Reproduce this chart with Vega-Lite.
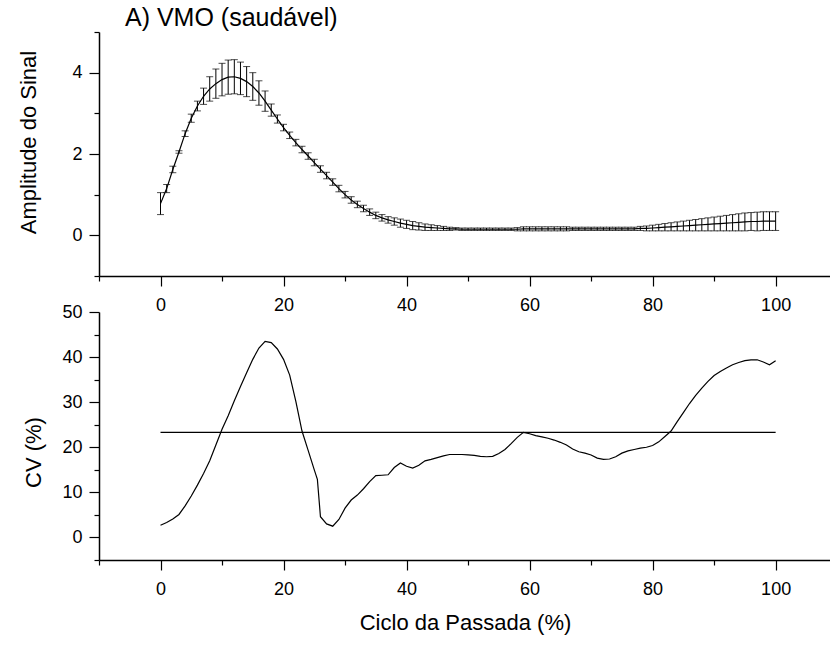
{
  "$schema": "https://vega.github.io/schema/vega-lite/v6.json",
  "background": "white",
  "padding": {"left": 16, "top": 6, "right": 0, "bottom": 5},
  "bounds": "flush",
  "spacing": 36,
  "config": {
    "font": "Liberation Sans",
    "view": {"stroke": null},
    "axis": {
      "grid": false,
      "labelOverlap": false,
      "labelFlush": false,
      "format": "d",
      "domainColor": "black",
      "domainWidth": 1.5,
      "tickColor": "black",
      "tickWidth": 1.2,
      "labelColor": "black",
      "labelFont": "Liberation Sans",
      "labelFontSize": 18,
      "titleColor": "black",
      "titleFont": "Liberation Sans",
      "titleFontSize": 22,
      "titleFontWeight": "normal"
    }
  },
  "datasets": {
    "amp": [
      {"p":0,"m":0.78,"lo":0.51,"hi":1.05},
      {"p":1,"m":1.15,"lo":1.05,"hi":1.25},
      {"p":2,"m":1.62,"lo":1.54,"hi":1.70},
      {"p":3,"m":2.05,"lo":2.02,"hi":2.08},
      {"p":4,"m":2.50,"lo":2.43,"hi":2.57},
      {"p":5,"m":2.88,"lo":2.78,"hi":2.98},
      {"p":6,"m":3.18,"lo":3.06,"hi":3.30},
      {"p":7,"m":3.42,"lo":3.22,"hi":3.62},
      {"p":8,"m":3.60,"lo":3.30,"hi":3.90},
      {"p":9,"m":3.73,"lo":3.37,"hi":4.09},
      {"p":10,"m":3.83,"lo":3.43,"hi":4.23},
      {"p":11,"m":3.89,"lo":3.47,"hi":4.31},
      {"p":12,"m":3.90,"lo":3.48,"hi":4.32},
      {"p":13,"m":3.86,"lo":3.46,"hi":4.26},
      {"p":14,"m":3.78,"lo":3.41,"hi":4.15},
      {"p":15,"m":3.66,"lo":3.32,"hi":4.00},
      {"p":16,"m":3.50,"lo":3.20,"hi":3.80},
      {"p":17,"m":3.30,"lo":3.05,"hi":3.55},
      {"p":18,"m":3.08,"lo":2.93,"hi":3.23},
      {"p":19,"m":2.86,"lo":2.76,"hi":2.96},
      {"p":20,"m":2.65,"lo":2.57,"hi":2.73},
      {"p":21,"m":2.46,"lo":2.38,"hi":2.54},
      {"p":22,"m":2.28,"lo":2.20,"hi":2.36},
      {"p":23,"m":2.11,"lo":2.03,"hi":2.19},
      {"p":24,"m":1.95,"lo":1.87,"hi":2.03},
      {"p":25,"m":1.79,"lo":1.71,"hi":1.87},
      {"p":26,"m":1.63,"lo":1.55,"hi":1.71},
      {"p":27,"m":1.47,"lo":1.39,"hi":1.55},
      {"p":28,"m":1.31,"lo":1.23,"hi":1.39},
      {"p":29,"m":1.15,"lo":1.07,"hi":1.23},
      {"p":30,"m":1.00,"lo":0.92,"hi":1.08},
      {"p":31,"m":0.87,"lo":0.79,"hi":0.95},
      {"p":32,"m":0.76,"lo":0.68,"hi":0.84},
      {"p":33,"m":0.66,"lo":0.58,"hi":0.74},
      {"p":34,"m":0.57,"lo":0.49,"hi":0.65},
      {"p":35,"m":0.49,"lo":0.41,"hi":0.57},
      {"p":36,"m":0.43,"lo":0.35,"hi":0.51},
      {"p":37,"m":0.38,"lo":0.30,"hi":0.46},
      {"p":38,"m":0.34,"lo":0.25,"hi":0.43},
      {"p":39,"m":0.30,"lo":0.20,"hi":0.40},
      {"p":40,"m":0.27,"lo":0.17,"hi":0.37},
      {"p":41,"m":0.24,"lo":0.14,"hi":0.34},
      {"p":42,"m":0.22,"lo":0.13,"hi":0.31},
      {"p":43,"m":0.20,"lo":0.12,"hi":0.28},
      {"p":44,"m":0.19,"lo":0.12,"hi":0.26},
      {"p":45,"m":0.18,"lo":0.12,"hi":0.24},
      {"p":46,"m":0.17,"lo":0.12,"hi":0.22},
      {"p":47,"m":0.16,"lo":0.12,"hi":0.20},
      {"p":48,"m":0.16,"lo":0.13,"hi":0.19},
      {"p":49,"m":0.15,"lo":0.12,"hi":0.18},
      {"p":50,"m":0.15,"lo":0.12,"hi":0.18},
      {"p":51,"m":0.15,"lo":0.12,"hi":0.18},
      {"p":52,"m":0.15,"lo":0.12,"hi":0.18},
      {"p":53,"m":0.15,"lo":0.12,"hi":0.18},
      {"p":54,"m":0.15,"lo":0.12,"hi":0.18},
      {"p":55,"m":0.15,"lo":0.12,"hi":0.18},
      {"p":56,"m":0.15,"lo":0.12,"hi":0.18},
      {"p":57,"m":0.15,"lo":0.12,"hi":0.18},
      {"p":58,"m":0.15,"lo":0.11,"hi":0.19},
      {"p":59,"m":0.16,"lo":0.11,"hi":0.21},
      {"p":60,"m":0.16,"lo":0.11,"hi":0.21},
      {"p":61,"m":0.16,"lo":0.11,"hi":0.21},
      {"p":62,"m":0.16,"lo":0.11,"hi":0.21},
      {"p":63,"m":0.16,"lo":0.11,"hi":0.21},
      {"p":64,"m":0.16,"lo":0.11,"hi":0.21},
      {"p":65,"m":0.16,"lo":0.11,"hi":0.21},
      {"p":66,"m":0.16,"lo":0.11,"hi":0.21},
      {"p":67,"m":0.16,"lo":0.12,"hi":0.20},
      {"p":68,"m":0.16,"lo":0.12,"hi":0.20},
      {"p":69,"m":0.16,"lo":0.12,"hi":0.20},
      {"p":70,"m":0.16,"lo":0.12,"hi":0.20},
      {"p":71,"m":0.16,"lo":0.12,"hi":0.20},
      {"p":72,"m":0.16,"lo":0.12,"hi":0.20},
      {"p":73,"m":0.16,"lo":0.12,"hi":0.20},
      {"p":74,"m":0.16,"lo":0.12,"hi":0.20},
      {"p":75,"m":0.16,"lo":0.12,"hi":0.20},
      {"p":76,"m":0.16,"lo":0.12,"hi":0.20},
      {"p":77,"m":0.16,"lo":0.12,"hi":0.20},
      {"p":78,"m":0.17,"lo":0.12,"hi":0.22},
      {"p":79,"m":0.17,"lo":0.11,"hi":0.23},
      {"p":80,"m":0.18,"lo":0.11,"hi":0.25},
      {"p":81,"m":0.19,"lo":0.11,"hi":0.27},
      {"p":82,"m":0.20,"lo":0.11,"hi":0.29},
      {"p":83,"m":0.21,"lo":0.11,"hi":0.31},
      {"p":84,"m":0.22,"lo":0.11,"hi":0.33},
      {"p":85,"m":0.23,"lo":0.11,"hi":0.35},
      {"p":86,"m":0.24,"lo":0.11,"hi":0.37},
      {"p":87,"m":0.25,"lo":0.11,"hi":0.39},
      {"p":88,"m":0.26,"lo":0.11,"hi":0.41},
      {"p":89,"m":0.27,"lo":0.11,"hi":0.43},
      {"p":90,"m":0.28,"lo":0.11,"hi":0.45},
      {"p":91,"m":0.29,"lo":0.11,"hi":0.47},
      {"p":92,"m":0.30,"lo":0.11,"hi":0.49},
      {"p":93,"m":0.31,"lo":0.11,"hi":0.51},
      {"p":94,"m":0.32,"lo":0.11,"hi":0.53},
      {"p":95,"m":0.33,"lo":0.11,"hi":0.55},
      {"p":96,"m":0.34,"lo":0.12,"hi":0.56},
      {"p":97,"m":0.34,"lo":0.11,"hi":0.57},
      {"p":98,"m":0.35,"lo":0.12,"hi":0.58},
      {"p":99,"m":0.35,"lo":0.12,"hi":0.58},
      {"p":100,"m":0.35,"lo":0.12,"hi":0.58}
    ],
    "cv": [
      {"p":0,"cv":2.7},{"p":1,"cv":3.3},{"p":2,"cv":4.1},{"p":3,"cv":5.1},{"p":4,"cv":7.0},
      {"p":5,"cv":9.2},{"p":6,"cv":11.6},{"p":7,"cv":14.2},{"p":8,"cv":17.0},{"p":9,"cv":20.5},
      {"p":10,"cv":24.0},{"p":11,"cv":27.0},{"p":12,"cv":30.3},{"p":13,"cv":33.5},{"p":14,"cv":36.5},
      {"p":15,"cv":39.5},{"p":16,"cv":42.0},{"p":17,"cv":43.5},{"p":18,"cv":43.2},{"p":19,"cv":41.8},
      {"p":20,"cv":39.5},{"p":21,"cv":36.0},{"p":22,"cv":30.2},{"p":23,"cv":23.6},{"p":24,"cv":19.3},
      {"p":25,"cv":15.0},{"p":25.5,"cv":12.9},{"p":26,"cv":4.6},{"p":27,"cv":3.0},{"p":28,"cv":2.5},
      {"p":29,"cv":4.0},{"p":30,"cv":6.5},{"p":31,"cv":8.3},{"p":32,"cv":9.4},{"p":33,"cv":10.8},
      {"p":34,"cv":12.4},{"p":35,"cv":13.7},{"p":36,"cv":13.8},{"p":37,"cv":13.9},{"p":38,"cv":15.5},
      {"p":39,"cv":16.5},{"p":40,"cv":15.8},{"p":41,"cv":15.4},{"p":42,"cv":16.0},{"p":43,"cv":17.0},
      {"p":44,"cv":17.3},{"p":45,"cv":17.7},{"p":46,"cv":18.1},{"p":47,"cv":18.4},{"p":48,"cv":18.4},
      {"p":49,"cv":18.4},{"p":50,"cv":18.3},{"p":51,"cv":18.2},{"p":52,"cv":18.0},{"p":53,"cv":17.9},
      {"p":54,"cv":18.0},{"p":55,"cv":18.6},{"p":56,"cv":19.5},{"p":57,"cv":20.8},{"p":58,"cv":22.2},
      {"p":59,"cv":23.3},{"p":60,"cv":23.0},{"p":61,"cv":22.6},{"p":62,"cv":22.3},{"p":63,"cv":22.0},
      {"p":64,"cv":21.6},{"p":65,"cv":21.1},{"p":66,"cv":20.5},{"p":67,"cv":19.6},{"p":68,"cv":19.0},
      {"p":69,"cv":18.7},{"p":70,"cv":18.3},{"p":71,"cv":17.6},{"p":72,"cv":17.3},{"p":73,"cv":17.4},
      {"p":74,"cv":17.9},{"p":75,"cv":18.7},{"p":76,"cv":19.2},{"p":77,"cv":19.5},{"p":78,"cv":19.8},
      {"p":79,"cv":20.0},{"p":80,"cv":20.4},{"p":81,"cv":21.2},{"p":82,"cv":22.4},{"p":83,"cv":23.6},
      {"p":84,"cv":25.7},{"p":85,"cv":27.7},{"p":86,"cv":29.7},{"p":87,"cv":31.5},{"p":88,"cv":33.1},
      {"p":89,"cv":34.6},{"p":90,"cv":35.9},{"p":91,"cv":36.8},{"p":92,"cv":37.6},{"p":93,"cv":38.3},
      {"p":94,"cv":38.8},{"p":95,"cv":39.2},{"p":96,"cv":39.4},{"p":97,"cv":39.4},{"p":98,"cv":38.9},
      {"p":99,"cv":38.3},{"p":100,"cv":39.2}
    ],
    "cvmean": [{"p0":0,"p1":100,"v":23.3}]
  },
  "vconcat": [
    {
      "width": 732,
      "height": 244,
      "title": {"text": "A) VMO (saudável)", "anchor": "start", "frame": "group", "dx": 26, "fontSize": 25, "fontWeight": "normal", "font": "Liberation Sans", "color": "black", "offset": -28, "baseline": "alphabetic"},
      "data": {"name": "amp"},
      "encoding": {
        "x": {
          "field": "p", "type": "quantitative",
          "scale": {"domain": [-10, 109], "nice": false, "zero": false},
          "axis": {
            "title": null,
            "format": "d",
            "tickCount": 20,
            "values": [-10, 0, 10, 20, 30, 40, 50, 60, 70, 80, 90, 100],
            "labelExpr": "datum.value % 20 === 0 ? datum.label : ''",
            "tickSize": {"condition": {"test": "datum.value % 20 === 0", "value": 10}, "value": 5},
            "labelPadding": 10
          }
        }
      },
      "layer": [
        {
          "mark": {"type": "rule", "color": "black", "strokeWidth": 1},
          "encoding": {
            "y": {
              "field": "lo", "type": "quantitative", "title": "Amplitude do Sinal",
              "scale": {"domain": [-1, 5], "nice": false, "zero": false},
              "axis": {
                "format": "d",
                "tickCount": 20,
                "values": [-1, 0, 1, 2, 3, 4, 5],
                "labelExpr": "datum.value % 2 === 0 ? datum.label : ''",
                "tickSize": {"condition": {"test": "datum.value % 2 === 0", "value": 10}, "value": 5},
                "labelPadding": 7,
                "titleAngle": -90,
                "titleBaseline": "middle",
                "titleX": -71,
                "titleY": 110
              }
            },
            "y2": {"field": "hi"}
          }
        },
        {
          "mark": {"type": "tick", "orient": "horizontal", "size": 7, "thickness": 1, "color": "black"},
          "encoding": {"y": {"field": "lo", "type": "quantitative", "title": "Amplitude do Sinal"}}
        },
        {
          "mark": {"type": "tick", "orient": "horizontal", "size": 7, "thickness": 1, "color": "black"},
          "encoding": {"y": {"field": "hi", "type": "quantitative", "title": "Amplitude do Sinal"}}
        },
        {
          "mark": {"type": "line", "color": "black", "strokeWidth": 1.2},
          "encoding": {"y": {"field": "m", "type": "quantitative", "title": "Amplitude do Sinal"}}
        }
      ]
    },
    {
      "width": 732,
      "height": 248,
      "layer": [
        {
          "data": {"name": "cv"},
          "mark": {"type": "line", "color": "black", "strokeWidth": 1.2},
          "encoding": {
            "x": {
              "field": "p", "type": "quantitative", "title": "Ciclo da Passada (%)",
              "scale": {"domain": [-10, 109], "nice": false, "zero": false},
              "axis": {
                "format": "d",
                "tickCount": 20,
                "values": [-10, 0, 10, 20, 30, 40, 50, 60, 70, 80, 90, 100],
                "labelExpr": "datum.value % 20 === 0 ? datum.label : ''",
                "tickSize": {"condition": {"test": "datum.value % 20 === 0", "value": 10}, "value": 5},
                "labelPadding": 10,
                "titlePadding": 14
              }
            },
            "y": {
              "field": "cv", "type": "quantitative", "title": "CV (%)",
              "scale": {"domain": [-5, 50], "nice": false, "zero": false},
              "axis": {
                "format": "d",
                "tickCount": 20,
                "values": [-5, 0, 5, 10, 15, 20, 25, 30, 35, 40, 45, 50],
                "labelExpr": "datum.value % 10 === 0 ? datum.label : ''",
                "tickSize": {"condition": {"test": "datum.value % 10 === 0", "value": 10}, "value": 5},
                "labelPadding": 7,
                "titleAngle": -90,
                "titleBaseline": "middle",
                "titleX": -66,
                "titleY": 140
              }
            }
          }
        },
        {
          "data": {"name": "cvmean"},
          "mark": {"type": "rule", "color": "black", "strokeWidth": 1.2},
          "encoding": {
            "x": {"field": "p0", "type": "quantitative", "title": "Ciclo da Passada (%)"},
            "x2": {"field": "p1"},
            "y": {"field": "v", "type": "quantitative", "title": "CV (%)"}
          }
        }
      ]
    }
  ]
}
